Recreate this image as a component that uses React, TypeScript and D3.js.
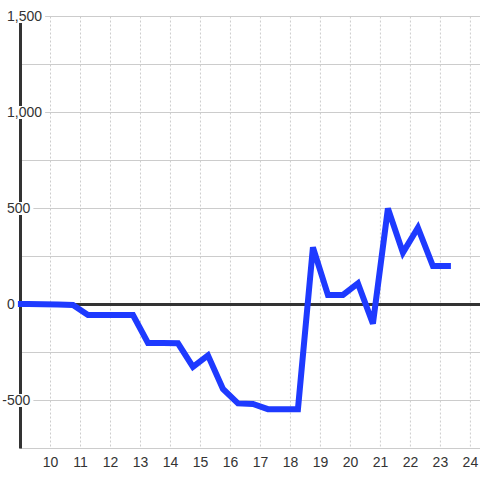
import React from "react";
import * as d3 from "d3";

const hours = [9, 9.25, 9.75, 10.25, 10.75, 11.25, 11.75, 12.25, 12.75, 13.25, 13.75, 14.25, 14.75, 15.25, 15.75, 16.25, 16.75, 17.25, 17.75, 18.25, 18.75, 19.25, 19.75, 20.25, 20.75, 21.25, 21.75, 22.25, 22.75, 23.25];
const values = [2, 2, 1, 0, -3, -55, -55, -55, -55, -200, -200, -202, -325, -265, -440, -515, -518, -545, -545, -545, 298, 50, 50, 110, -100, 500, 270, 400, 200, 200];
const xTicks = [10, 11, 12, 13, 14, 15, 16, 17, 18, 19, 20, 21, 22, 23, 24];
const yLabelTicks = [1500, 1000, 500, 0, -500];
const yGridTicks = [1500, 1250, 1000, 750, 500, 250, 0, -250, -500, -750];

const W = 480;
const H = 480;

function textWidth(s: string): number {
  let w = 0;
  for (const c of s) {
    if (c === ",") w += 3.9;
    else if (c === "-") w += 4.7;
    else w += 7.8;
  }
  return w;
}

export default function App() {
  const x = d3.scaleLinear().domain([9, 24.32]).range([20.5, 480]);
  const y = d3.scaleLinear().domain([-750, 1500]).range([448.5, 16.5]);
  const fmt = d3.format(",");
  const line = d3
    .line<number>()
    .x((_, i) => x(hours[i]))
    .y((d) => y(d));

  return (
    <svg
      width={W}
      height={H}
      style={{ position: "absolute", left: 0, top: 0, background: "#fff" }}
      fontFamily="'Liberation Sans', Arial, sans-serif"
    >
      <rect x={0} y={0} width={W} height={H} fill="#fff" />
      {yGridTicks.map((t) => (
        <line key={"hg" + t} x1={20} x2={480} y1={y(t)} y2={y(t)} stroke="#cccccc" strokeWidth={1} />
      ))}
      {xTicks.map((t) => (
        <line
          key={"vg" + t}
          x1={x(t)}
          x2={x(t)}
          y1={y(1500)}
          y2={y(-750)}
          stroke="#cccccc"
          strokeWidth={1}
          strokeDasharray="2,2"
        />
      ))}
      <line x1={20} x2={480} y1={y(0)} y2={y(0)} stroke="#333" strokeWidth={3} />
      <line x1={20.5} x2={20.5} y1={y(1500)} y2={y(-750)} stroke="#333" strokeWidth={3} />
      <path
        d={line(values) || ""}
        fill="none"
        stroke="#1e3aff"
        strokeWidth={6}
        strokeLinecap="square"
        strokeLinejoin="miter"
      />
      {yLabelTicks.map((t) => {
        const s = fmt(t).replace("−", "-");
        const tx = t < 0 ? 2.3 : 7;
        const w = textWidth(s);
        return (
          <g key={"yl" + t}>
            <rect x={tx - 3} y={y(t) - 6.5} width={w + 6} height={13} fill="#fff" />
            <text x={tx} y={y(t)} dy="0.35em" fontSize={14} fill="#333">
              {s}
            </text>
          </g>
        );
      })}
      {xTicks.map((t) => (
        <text key={"xl" + t} x={x(t)} y={467} textAnchor="middle" fontSize={14} fill="#333">
          {t}
        </text>
      ))}
    </svg>
  );
}
